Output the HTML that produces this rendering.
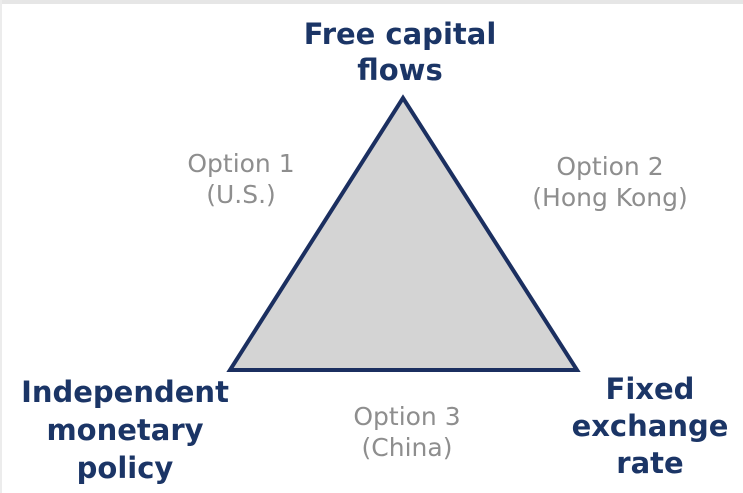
<!DOCTYPE html>
<html><head><style>
body{margin:0;width:743px;height:493px;background:#fff;position:relative;overflow:hidden}
.top{position:absolute;left:0;top:0;width:743px;height:4px;background:#e6e6e6}
.lb{position:absolute;left:0;top:0;width:2px;height:493px;background:#ececec}
.t{position:absolute;text-align:center;font-family:"DejaVu Sans",sans-serif;font-weight:bold;color:#1b3566;font-size:29px;line-height:36px;white-space:nowrap}
.o{position:absolute;text-align:center;font-family:"DejaVu Sans",sans-serif;color:#8e8e8e;font-size:25px;line-height:31px;white-space:nowrap}
</style></head><body>
<div class="top"></div><div class="lb"></div>
<svg width="743" height="493" style="position:absolute;left:0;top:0">
<polygon points="403,98 230,370 577,370" fill="#d4d4d4" stroke="#1b2f60" stroke-width="4" stroke-linejoin="miter"/>
</svg>
<div class="t" style="left:200px;width:400px;top:16px">Free capital<br>flows</div>
<div class="t" style="left:0;width:250px;top:373px;line-height:38px">Independent<br>monetary<br>policy</div>
<div class="t" style="left:540px;width:220px;top:371px;line-height:37px">Fixed<br>exchange<br>rate</div>
<div class="o" style="left:141px;width:200px;top:148px">Option 1<br>(U.S.)</div>
<div class="o" style="left:490px;width:240px;top:151px">Option 2<br>(Hong Kong)</div>
<div class="o" style="left:307px;width:200px;top:401px">Option 3<br>(China)</div>
</body></html>
